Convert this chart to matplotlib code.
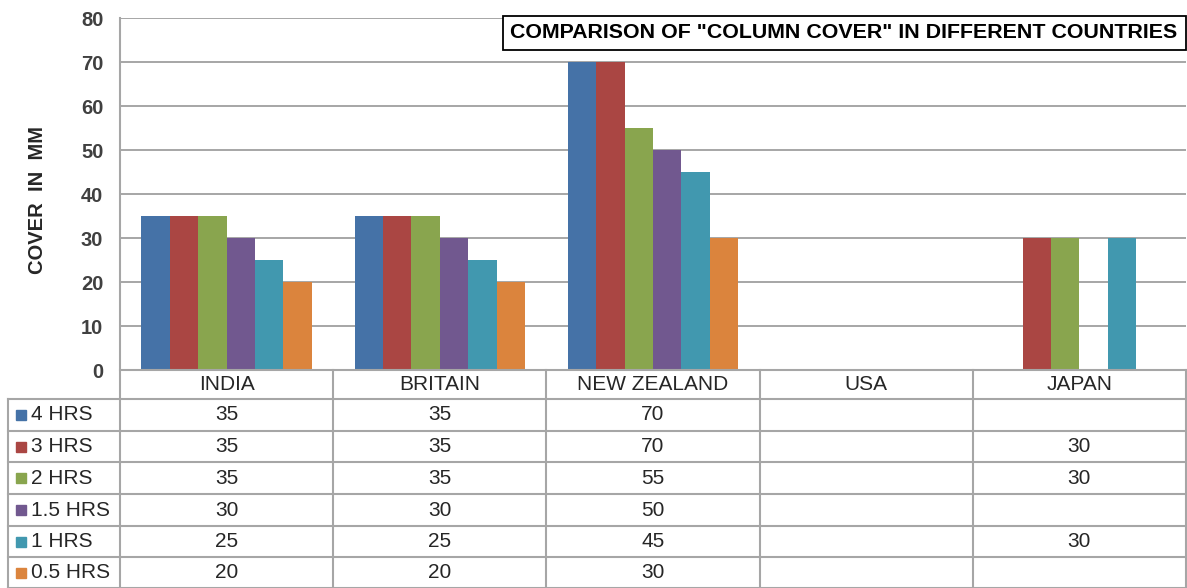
import numpy as np
import matplotlib
matplotlib.use("Agg")
from matplotlib import pyplot as plt
from matplotlib import transforms
from matplotlib.patches import Rectangle

# dados do gráfico
countries = ["INDIA", "BRITAIN", "NEW ZEALAND", "USA", "JAPAN"]
series_names = ["4 HRS", "3 HRS", "2 HRS", "1.5 HRS", "1 HRS", "0.5 HRS"]
hrs_4 = [35, 35, 70, None, None]
hrs_3 = [35, 35, 70, None, 30]
hrs_2 = [35, 35, 55, None, 30]
hrs_1_5 = [30, 30, 50, None, None]
hrs_1 = [25, 25, 45, None, 30]
hrs_0_5 = [20, 20, 30, None, None]
series_values = [hrs_4, hrs_3, hrs_2, hrs_1_5, hrs_1, hrs_0_5]
y_ticks = [0, 10, 20, 30, 40, 50, 60, 70, 80]

colors = ["#4572A7", "#AA4643", "#89A54E", "#71588F", "#4198AF", "#DB843D"]
title = 'COMPARISON OF "COLUMN COVER" IN DIFFERENT COUNTRIES'

plt.rcParams["font.family"] = ["Liberation Sans", "DejaVu Sans"]

W, H = 1187, 588
LEFT, RIGHT, TOP, BOTTOM = 120, 1186, 18, 370
GRID = "#A6A6A6"
TXT = "#262626"

fig = plt.figure(figsize=(W / 100, H / 100), dpi=100)
ax = fig.add_axes([LEFT / W, 1 - BOTTOM / H, (RIGHT - LEFT) / W, (BOTTOM - TOP) / H])


def ax_x(px):
    return (px - LEFT) / (RIGHT - LEFT)


def ax_y(py):
    return (BOTTOM - py) / (BOTTOM - TOP)


# barras agrupadas
x = np.arange(len(countries))
n = len(series_names)
width = 0.8 / n
for j, (vals, c) in enumerate(zip(series_values, colors)):
    xs = [x[i] + (j - (n - 1) / 2) * width for i, v in enumerate(vals) if v is not None]
    hs = [v for v in vals if v is not None]
    ax.bar(xs, hs, width=width, color=c, zorder=3)

ax.set_xlim(-0.5, len(countries) - 0.5)
ax.set_ylim(0, 80)
ax.set_yticks(y_ticks)
ax.set_xticks([])
ax.grid(axis="y", color=GRID, linewidth=1.4, zorder=0)
for s in ax.spines.values():
    s.set_visible(False)
ax.tick_params(axis="y", length=0, pad=12, labelsize=14.5, labelcolor="#404040")
for lbl in ax.get_yticklabels():
    lbl.set_fontweight("bold")
ax.set_ylabel("COVER  IN  MM", fontsize=14.5, fontweight="bold", color=TXT)
ax.yaxis.set_label_coords(ax_x(47), ax_y(200))

# tabela de dados abaixo do gráfico
blend = transforms.blended_transform_factory(ax.transData, ax.transAxes)
row_lines = [370, 399, 431, 462, 494, 526, 557, 588]
leg_left = ax_x(8)


def hline(py, x0, x1):
    ax.plot([x0, x1], [ax_y(py)] * 2, color=GRID, lw=1.5, transform=ax.transAxes,
            clip_on=False, zorder=4)


def vline(px, py0, py1):
    ax.plot([ax_x(px)] * 2, [ax_y(py0), ax_y(py1)], color=GRID, lw=1.5,
            transform=ax.transAxes, clip_on=False, zorder=4)


hline(370, 0, 1)
for py in row_lines[1:]:
    hline(py, leg_left, 1)
vline(LEFT, TOP, 588)
vline(8, 399, 588)
for k in range(1, len(countries) + 1):
    ax.plot([k - 0.5] * 2, [ax_y(370), ax_y(588)], color=GRID, lw=1.5,
            transform=blend, clip_on=False, zorder=4)

for i, name in enumerate(countries):
    ax.text(x[i], ax_y((row_lines[0] + row_lines[1]) / 2), name, ha="center", va="center",
            fontsize=15, color=TXT, transform=blend)

for j, (name, vals, c) in enumerate(zip(series_names, series_values, colors)):
    yc = ax_y((row_lines[j + 1] + row_lines[j + 2]) / 2)
    ax.plot([ax_x(21)], [yc], marker="s", markersize=7.2, color=c, transform=ax.transAxes,
            clip_on=False, zorder=5)
    ax.text(ax_x(31), yc, name, ha="left", va="center", fontsize=15, color=TXT,
            transform=ax.transAxes)
    for i, v in enumerate(vals):
        if v is not None:
            ax.text(x[i], yc, str(v), ha="center", va="center", fontsize=15,
                    color=TXT, transform=blend)

# caixa do título
fig.patches.append(Rectangle((503 / W, 1 - 50 / H), (1186 - 503) / W, 34 / H,
                             transform=fig.transFigure, facecolor="white",
                             edgecolor="black", linewidth=1.3, zorder=10))
fig.text(510 / W, 1 - 33 / H, title, ha="left", va="center", fontsize=15.4,
         fontweight="bold", color="black", zorder=11)

plt.savefig("out.png", dpi=100)
